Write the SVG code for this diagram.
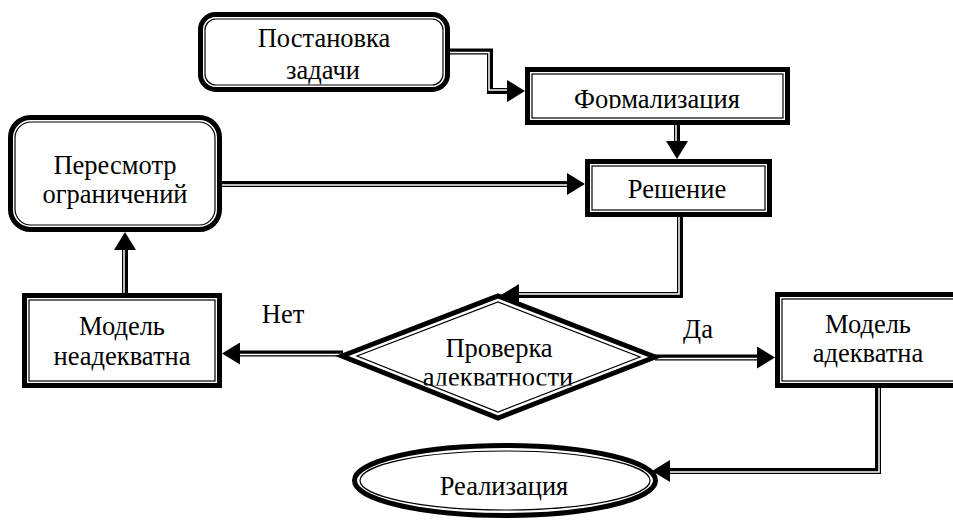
<svg xmlns="http://www.w3.org/2000/svg" width="953" height="521" viewBox="0 0 953 521">
<style>
.ob{fill:#fff;stroke:#000;stroke-width:5}
.ib{fill:none;stroke:#000;stroke-width:1.2}
.cb{fill:none;stroke:#000;stroke-width:6;marker-end:url(#ah)}
.cw{fill:none;stroke:#fff;stroke-width:1.5}
.t{font-family:'Liberation Serif','Times New Roman',serif;font-size:26.5px;fill:#000;text-anchor:middle}
</style>
<defs>
<marker id="ah" markerUnits="userSpaceOnUse" viewBox="0 0 18 22" refX="6" refY="11" markerWidth="18" markerHeight="22" orient="auto">
<path d="M0,0 L18,11 L0,22 z" fill="#000"/>
</marker>
<clipPath id="clipF"><rect x="520" y="60" width="280" height="48.5"/></clipPath>
<clipPath id="clipA"><rect x="400" y="340" width="200" height="45.5"/></clipPath>
</defs>
<rect width="953" height="521" fill="#fff"/>
<g id="connectors">
<path class="cb" d="M450,51.5 H490 V91 H513"/>
<path class="cw" d="M450,52.5 H489 V90 H507"/>
<path class="cb" d="M677,125 V147"/>
<path class="cw" d="M676,125 V141"/>
<path class="cb" d="M222,184 H573"/>
<path class="cw" d="M222,185 H567"/>
<path class="cb" d="M680,217 V295 H513"/>
<path class="cw" d="M679,217 V294 H519"/>
<path class="cb" d="M343,353.5 H234"/>
<path class="cw" d="M343,354.5 H240"/>
<path class="cb" d="M655,357.5 H763"/>
<path class="cw" d="M655,358.5 H757"/>
<path class="cb" d="M125,293 V244"/>
<path class="cw" d="M124,293 V250"/>
<path class="cb" d="M878,388 V471 H664"/>
<path class="cw" d="M879,388 V472 H670"/>
</g>
<g id="postanovka">
<rect class="ob" x="200.5" y="14.5" width="247" height="75" rx="15"/>
<rect class="ib" x="205" y="19" width="238" height="66" rx="11"/>
<text class="t" x="324" y="47">Постановка</text>
<text class="t" x="323" y="79">задачи</text>
</g>
<g id="formalizatsiya">
<rect class="ob" x="527.5" y="69.5" width="260" height="53"/>
<rect class="ib" x="532" y="74" width="251" height="44"/>
<text class="t" x="657" y="108" clip-path="url(#clipF)">Формализация</text>
</g>
<g id="reshenie">
<rect class="ob" x="587.5" y="161.5" width="182" height="53"/>
<rect class="ib" x="592" y="166" width="173" height="44"/>
<text class="t" x="677" y="198">Решение</text>
</g>
<g id="peresmotr">
<rect class="ob" x="10.5" y="117.5" width="209" height="112" rx="20"/>
<rect class="ib" x="15" y="122" width="200" height="103" rx="16"/>
<text class="t" x="115" y="174">Пересмотр</text>
<text class="t" x="115" y="203">ограничений</text>
</g>
<g id="neadekvatna">
<rect class="ob" x="24.5" y="295.5" width="195" height="90"/>
<rect class="ib" x="29" y="300" width="186" height="81"/>
<text class="t" x="122" y="335">Модель</text>
<text class="t" x="122" y="365">неадекватна</text>
</g>
<g id="proverka">
<polygon class="ob" points="342,356 498,296 655,357 498,418"/>
<polygon class="ib" points="357,356 498,302 640,357 498,412"/>
<text class="t" x="499" y="357">Проверка</text>
<text class="t" x="498" y="386" clip-path="url(#clipA)">адекватности</text>
</g>
<g id="adekvatna">
<rect class="ob" x="777.5" y="294.5" width="190" height="91"/>
<rect class="ib" x="782" y="299" width="181" height="82"/>
<text class="t" x="868" y="333">Модель</text>
<text class="t" x="868" y="362">адекватна</text>
</g>
<g id="realizatsiya">
<ellipse class="ob" cx="505" cy="480.5" rx="150.5" ry="35"/>
<ellipse class="ib" cx="505" cy="480.5" rx="145" ry="29.5"/>
<text class="t" x="504" y="495">Реализация</text>
</g>
<g id="labels">
<text class="t" x="283" y="323">Нет</text>
<text class="t" x="698" y="338">Да</text>
</g>
</svg>
